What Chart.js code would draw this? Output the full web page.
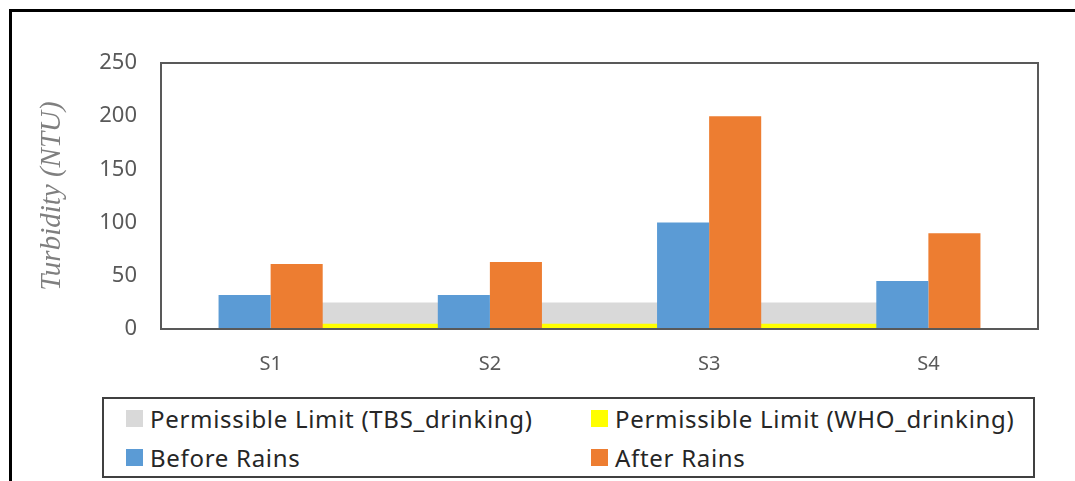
<!DOCTYPE html>
<html>
<head>
<meta charset="utf-8">
<script src="https://cdn.jsdelivr.net/npm/chart.js@4.4.1/dist/chart.umd.min.js"></script>
<style>
    body { margin: 0; background: #fff; width: 1075px; height: 481px; overflow: hidden; position: relative; font-family: 'Noto Sans', sans-serif; }
    #frame { position: absolute; left: 9px; top: 9px; width: 1100px; height: 500px; border-top: 3px solid #000; border-left: 3px solid #000; }
    #wrap { position: absolute; left: 0; top: 0; width: 1075px; height: 481px; }
    #legend {
        position: absolute; left: 102px; top: 397px; width: 933px; height: 81px;
        border: 2px solid #404040; background: #fff; box-sizing: border-box;
        display: grid; grid-template-columns: 465px auto; grid-auto-rows: 39px;
        padding-left: 22px; padding-top: 0;
    }
    .item { display: flex; align-items: center; font-size: 24px; letter-spacing: 0.7px; color: #262626; white-space: nowrap; }
    .item span.box { width: 17px; height: 17px; margin-right: 7px; flex: none; }
</style>
</head>
<body>
<div id="frame"></div>
<div id="wrap"><canvas id="turbidityChart" width="1075" height="481"></canvas></div>
<div id="legend"></div>
<script>
// Sampling sites and turbidity readings (NTU)
const categories = ['S1', 'S2', 'S3', 'S4'];
const beforeRains = [32, 32, 100, 45];
const afterRains = [61, 63, 200, 90];
const tbsLimit = [25, 25, 25, 25];
const whoLimit = [5, 5, 5, 5];
const yTicks = [0, 50, 100, 150, 200, 250];

// Draws the box round the plot area
const plotBorder = {
    id: 'plotBorder',
    afterDraw(chart) {
        const a = chart.chartArea;
        const ctx = chart.ctx;
        ctx.save();
        ctx.strokeStyle = '#595959';
        ctx.lineWidth = 2;
        ctx.strokeRect(a.left, a.top, a.right - a.left, a.bottom - a.top);
        ctx.restore();
    }
};

const ctx = document.getElementById('turbidityChart').getContext('2d');

const turbidityChart = new Chart(ctx, {
    type: 'bar',
    data: {
        labels: categories,
        datasets: [
            {
                type: 'line',
                label: 'Permissible Limit (TBS_drinking)',
                data: tbsLimit,
                backgroundColor: '#d9d9d9',
                borderWidth: 0,
                pointRadius: 0,
                fill: 'origin',
                order: 3
            },
            {
                type: 'line',
                label: 'Permissible Limit (WHO_drinking)',
                data: whoLimit,
                backgroundColor: '#ffff00',
                borderWidth: 0,
                pointRadius: 0,
                fill: 'origin',
                order: 2
            },
            {
                label: 'Before Rains',
                data: beforeRains,
                backgroundColor: '#5b9bd5',
                categoryPercentage: 0.475,
                barPercentage: 1,
                order: 1
            },
            {
                label: 'After Rains',
                data: afterRains,
                backgroundColor: '#ed7d31',
                categoryPercentage: 0.475,
                barPercentage: 1,
                order: 1
            }
        ]
    },
    options: {
        responsive: false,
        animation: false,
        layout: {
            padding: { left: 29, top: 63, right: 37, bottom: 92 }
        },
        plugins: {
            legend: { display: false },
            tooltip: { enabled: false }
        },
        scales: {
            x: {
                grid: { display: false },
                border: { display: false },
                ticks: { color: '#595959', font: { family: 'Noto Sans', size: 20 }, padding: 15 },
                afterFit(scale) { scale.height = 60; }
            },
            y: {
                min: 0,
                max: 250,
                grid: { display: false, drawTicks: false },
                border: { display: false },
                afterBuildTicks(scale) { scale.ticks = yTicks.map(v => ({ value: v })); },
                ticks: { color: '#595959', font: { family: 'Noto Sans', size: 22 }, padding: 24 },
                title: {
                    display: true,
                    text: 'Turbidity (NTU)',
                    color: '#7f7f7f',
                    font: { family: 'Liberation Serif', size: 29, style: 'italic' },
                    padding: { top: 6, bottom: 0 }
                },
                afterFit(scale) { scale.width = 132; }
            }
        }
    },
    plugins: [plotBorder]
});

// Build the two-column legend from the chart's datasets
const legend = document.getElementById('legend');
turbidityChart.data.datasets.forEach(ds => {
    const item = document.createElement('div');
    item.className = 'item';
    item.innerHTML = `<span class="box" style="background:${ds.backgroundColor}"></span><span>${ds.label}</span>`;
    legend.appendChild(item);
});
</script>
</body>
</html>
